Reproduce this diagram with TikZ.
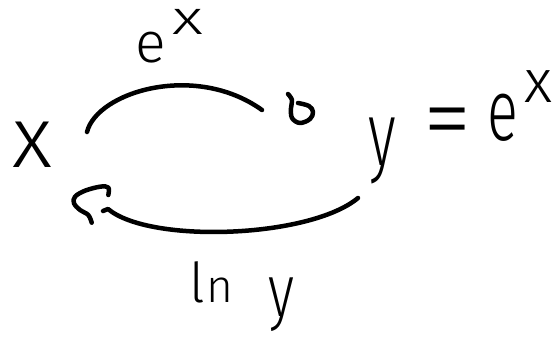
\documentclass[tikz,border=0pt]{standalone}
\usepackage{fontspec}
\usepackage{graphicx}
\newfontfamily\hand{Fira Sans Light}
\newcommand\hwplace[5]{\rlap{\hspace*{#1pt}\raisebox{#2pt}{\fontsize{#3pt}{#3pt}\selectfont\scalebox{#4}[1]{#5}}}}
\begin{document}
\begin{tikzpicture}[x=1pt,y=-1pt,
  hwline/.style={line width=4.5pt,line cap=round,line join=round},
  hwtext/.style={inner sep=0pt,anchor=base west,font=\hand}]
\useasboundingbox (0,0) rectangle (560,337);
\fill[white] (0,0) rectangle (560,337);
% texts
\node[hwtext,anchor=center,font={\hand\fontsize{87pt}{87pt}\selectfont}] (nx) at (32.5,145) {x};
\node[hwtext] (lt) at (138,63) {\hwplace{-3}{0}{57}{1}{e}\hwplace{34}{28}{48}{1.4}{x}};
\node[hwtext] (ny) at (368,165) {\hwplace{0}{0}{91}{0.65}{y}\hwplace{55}{14}{98}{1}{=}\hwplace{119}{25}{87}{0.66}{e}\hwplace{156}{63}{61}{1}{x}};
\node[hwtext] (lb) at (193,302) {\hwplace{-4}{0}{55}{1}{l}\hwplace{13}{0}{46}{1}{n}\hwplace{75}{-14}{74}{0.75}{y}};
% top connector
\coordinate (ta) at (87,132);
\coordinate (tb) at (262,110);
\draw[hwline] (ta) .. controls (97,92) and (195,62) .. (tb);
\draw[hwline] plot[smooth,tension=0.6] coordinates {(288,94) (292,100) (291,108) (292,118) (300,123) (310,119) (313,112) (309,106) (298,103)};
% bottom connector
\coordinate (ba) at (358,198);
\coordinate (bb) at (103,211);
\draw[hwline] (ba) .. controls (310,238) and (150,244) .. (108,209) -- (bb);
\draw[hwline] plot[smooth,tension=0.6] coordinates {(108.3,195) (108.3,187.5) (100,186.7) (85,190.7) (75,196.7) (74,203.3) (80,210) (88.3,215) (91.7,222.7)};
\end{tikzpicture}
\end{document}
